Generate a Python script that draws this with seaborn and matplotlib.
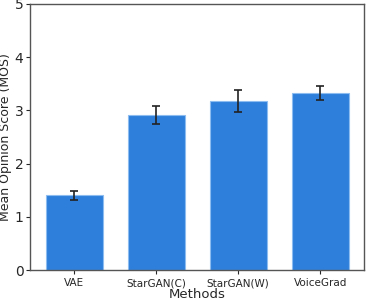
import pandas as pd
import matplotlib
matplotlib.use("Agg")
import matplotlib.pyplot as plt
import seaborn as sns

# Values
methods = ["VAE", "StarGAN(C)", "StarGAN(W)", "VoiceGrad"]
mos = [1.40, 2.91, 3.18, 3.33]
ci = [0.09, 0.17, 0.21, 0.13]

df = pd.DataFrame({"Methods": methods, "MOS": mos})

sns.set_style("ticks")
plt.rcParams["font.family"] = ["DejaVu Sans"]

fig, ax = plt.subplots(figsize=(3.67, 3.0), dpi=100)
fig.subplots_adjust(left=0.083, right=0.992, top=0.987, bottom=0.1)

sns.barplot(data=df, x="Methods", y="MOS", color="#2e7fdb", saturation=1,
            width=0.7, edgecolor="#8dbdf0", linewidth=0.8, errorbar=None, ax=ax)

ax.errorbar(ax.get_xticks(), mos, yerr=ci, fmt="none", ecolor="#222222",
            elinewidth=1.2, capsize=3, capthick=1.2)

ax.set_ylim(0, 5)
ax.set_yticks([0, 1, 2, 3, 4, 5])
ax.set_xlabel("Methods", fontsize=9.5, labelpad=0)
ax.set_ylabel("Mean Opinion Score (MOS)", fontsize=9, labelpad=2)
ax.tick_params(axis="x", labelsize=7.5, length=3, pad=3)
ax.tick_params(axis="y", labelsize=10, length=3, pad=2)

for s in ax.spines.values():
    s.set_visible(True)
    s.set_color("#555555")
    s.set_linewidth(1.0)

fig.savefig("out.png", dpi=100)
